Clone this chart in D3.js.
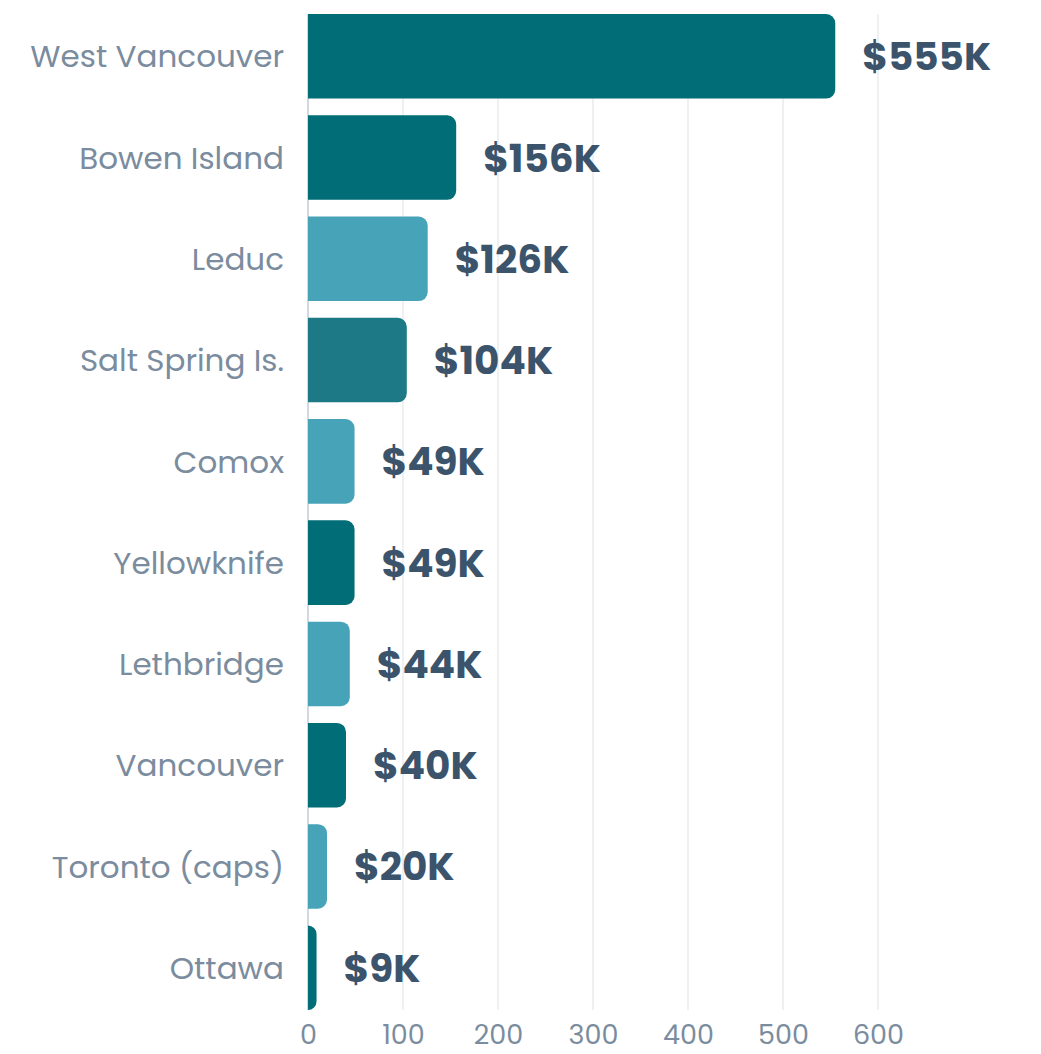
<!DOCTYPE html>
<html>
  <head>
    <meta charset="utf-8">
    <title>Bar chart</title>
    <script src="https://d3js.org/d3.v7.min.js"></script>
    <style>
      body { margin: 0; background: #fff; font-family: 'Poppins', 'Inter', sans-serif; }
    </style>
  </head>
  <body>
    <svg></svg>
    <script>
      // data
      var places = ["West Vancouver", "Bowen Island", "Leduc", "Salt Spring Is.", "Comox",
                    "Yellowknife", "Lethbridge", "Vancouver", "Toronto (caps)", "Ottawa"];
      var values = [555, 156, 126, 104, 49, 49, 44, 40, 20, 9];
      var valueLabels = ["$555K", "$156K", "$126K", "$104K", "$49K", "$49K", "$44K", "$40K", "$20K", "$9K"];
      var shades = ["dark", "dark", "light", "mid", "light", "dark", "light", "dark", "light", "dark"];
      var ticks = [0, 100, 200, 300, 400, 500, 600];

      var palette = { dark: "#006d77", light: "#46a3b8", mid: "#1d7985" };

      var svgWidth = 1041, svgHeight = 1054,
          margin = {top: 14, right: 11, bottom: 44, left: 308};

      var svg = d3.select("svg").attr("width", svgWidth).attr("height", svgHeight);

      var x = d3.scaleLinear().domain([0, 760]).range([margin.left, svgWidth - margin.right]);
      var y = d3.scaleBand().domain(places)
        .range([margin.top, svgHeight - margin.bottom])
        .paddingInner(0.165).paddingOuter(0);

      // gridlines
      svg.append("g").selectAll("line")
        .data(ticks).enter().append("line")
          .attr("x1", function(d){ return x(d); })
          .attr("x2", function(d){ return x(d); })
          .attr("y1", margin.top)
          .attr("y2", svgHeight - margin.bottom)
          .attr("stroke", function(d){ return d === 0 ? "#b8c0c8" : "#e3e6ea"; })
          .attr("stroke-width", 1.2);

      // x axis labels
      var xAxis = d3.axisBottom(x).tickValues(ticks).tickSize(0).tickPadding(15);
      var ax = svg.append("g")
        .attr("transform", "translate(0," + (svgHeight - margin.bottom) + ")")
        .call(xAxis);
      ax.select(".domain").remove();
      ax.selectAll("text")
        .attr("fill", "#7a8c9e")
        .style("font-size", "27px")
        .style("font-family", "'Poppins', 'Inter', sans-serif");

      // bars with rounded right end
      var r = 9;
      function barPath(d, i) {
        var x0 = x(0), x1 = x(values[i]), y0 = y(places[i]), h = y.bandwidth();
        var rr = Math.min(r, (x1 - x0));
        return "M" + x0 + "," + y0 +
               "H" + (x1 - rr) +
               "A" + rr + "," + rr + " 0 0 1 " + x1 + "," + (y0 + rr) +
               "V" + (y0 + h - rr) +
               "A" + rr + "," + rr + " 0 0 1 " + (x1 - rr) + "," + (y0 + h) +
               "H" + x0 + "Z";
      }

      svg.append("g").selectAll("path")
        .data(places).enter().append("path")
          .attr("d", barPath)
          .attr("fill", function(d, i){ return palette[shades[i]]; });

      // category labels
      svg.append("g").selectAll("text")
        .data(places).enter().append("text")
          .attr("x", margin.left - 24)
          .attr("y", function(d){ return y(d) + y.bandwidth() / 2; })
          .attr("dy", "0.36em")
          .attr("text-anchor", "end")
          .attr("fill", "#7a8c9e")
          .style("font-size", "31px")
          .text(function(d){ return d; });

      // value labels
      svg.append("g").selectAll("text")
        .data(places).enter().append("text")
          .attr("x", function(d, i){ return x(values[i]) + 27; })
          .attr("y", function(d){ return y(d) + y.bandwidth() / 2; })
          .attr("dy", "0.36em")
          .attr("fill", "#3b546b")
          .style("font-size", "39px")
          .style("font-weight", "700")
          .text(function(d, i){ return valueLabels[i]; });
    </script>
  </body>
</html>
